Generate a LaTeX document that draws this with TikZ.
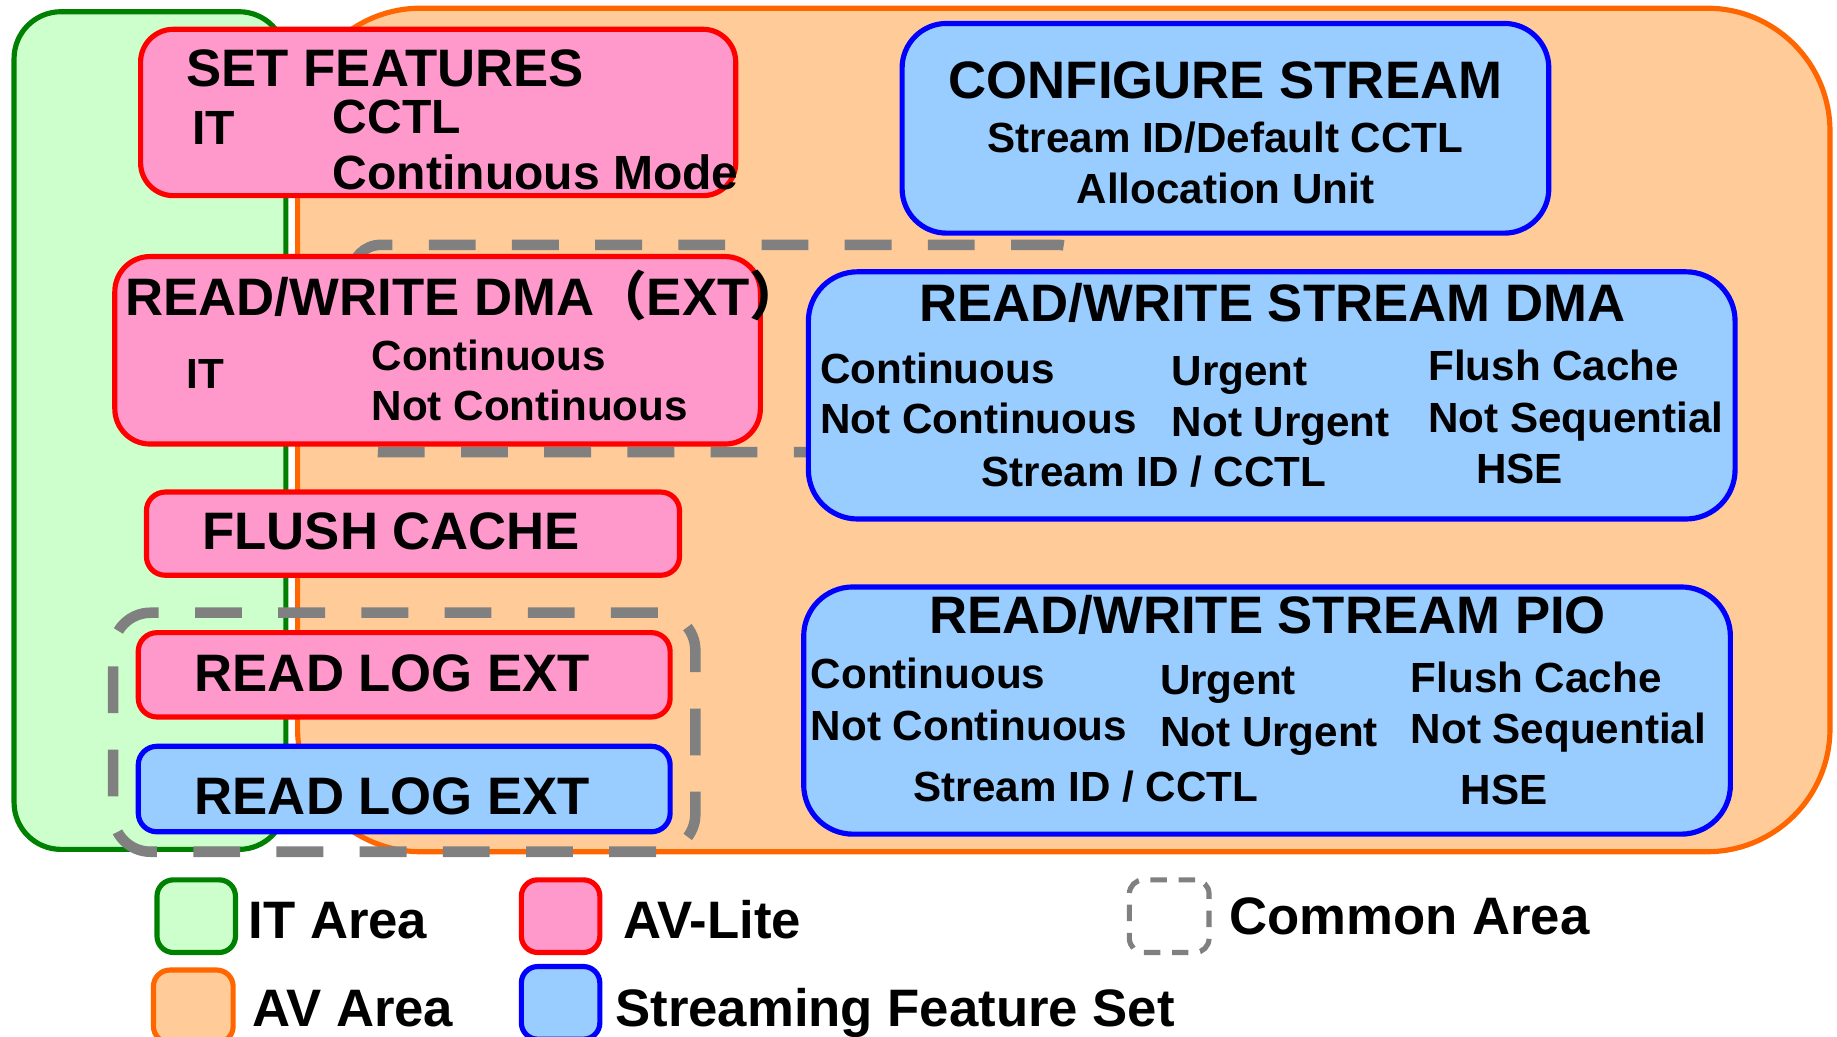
\documentclass[tikz,border=0pt]{standalone}
\usepackage{fontspec}
\setmainfont{Liberation Sans}
\newfontfamily\cjkfont{Noto Sans CJK SC}

\definecolor{itgreen}{HTML}{008000}
\definecolor{itfill}{HTML}{CCFFCC}
\definecolor{avorange}{HTML}{FF6600}
\definecolor{avfill}{HTML}{FFCC99}
\definecolor{litered}{HTML}{FF0000}
\definecolor{litepink}{HTML}{FF99CC}
\definecolor{streamblue}{HTML}{0000FF}
\definecolor{streamfill}{HTML}{99CCFF}
\definecolor{commongray}{HTML}{808080}

\tikzset{
  area/.style={rectangle, line width=4.4pt, inner sep=0pt, outer sep=0pt},
  itzone/.style={area, draw=itgreen, fill=itfill},
  avzone/.style={area, draw=avorange, fill=avfill},
  pinkbox/.style={area, draw=litered, fill=litepink},
  bluebox/.style={area, draw=streamblue, fill=streamfill},
  common/.style={area, draw=commongray, line width=9pt, dash pattern=on 40pt off 31pt},
  title/.style={inner sep=0pt, font=\fontsize{45}{54}\selectfont\bfseries},
  sub/.style={inner sep=0pt, font=\fontsize{36}{43}\selectfont\bfseries},
  subbig/.style={inner sep=0pt, font=\fontsize{41}{49}\selectfont\bfseries}
}

\begin{document}
\begin{tikzpicture}[x=1pt,y=-1pt]
			\path[use as bounding box, clip] (0,0) rectangle (1568,885);
			% areas
			\node[itzone, rounded corners=40pt, minimum width=232pt, minimum height=715pt] (itarea) at (128,367.5) {};
			\node[avzone, rounded corners=105pt, minimum width=1308pt, minimum height=720pt] (avarea) at (908,367) {};
			\node[common, rounded corners=25pt, minimum width=628pt, minimum height=177pt] (commontop) at (614,297.5) {};
			% AV-Lite commands
			\node[pinkbox, rounded corners=28pt, minimum width=508pt, minimum height=142pt] (setfeat) at (374,96) {};
			\node[title, anchor=base west] (setfeatT) at (159,74) {SET FEATURES};
			\node[subbig, anchor=base west] (setfeatIT) at (164,123) {IT};
			\node[subbig, anchor=base west] (setfeatA) at (284,114) {CCTL};
			\node[subbig, anchor=base west] (setfeatB) at (284,162) {Continuous Mode};
			\node[pinkbox, rounded corners=30pt, minimum width=551pt, minimum height=160pt] (rwdma) at (373.5,299) {};
			\node[title, anchor=base west] (rwdmaT) at (107,269) {READ/WRITE DMA{\cjkfont （}EXT{\cjkfont ）}};
			\node[sub, anchor=base west] (rwdmaIT) at (159,332) {IT};
			\node[sub, anchor=base west] (rwdmaA) at (317,316) {Continuous};
			\node[sub, anchor=base west] (rwdmaB) at (317,359) {Not Continuous};
			\node[pinkbox, rounded corners=16pt, minimum width=455pt, minimum height=71pt] (flush) at (352.5,455.5) {};
			\node[title, anchor=base] (flushT) at (334,469) {FLUSH CACHE};
			\node[pinkbox, rounded corners=16pt, minimum width=454pt, minimum height=72pt] (logpink) at (345,576) {};
			\node[title, anchor=base] (logpinkT) at (335,590) {READ LOG EXT};
			\node[bluebox, rounded corners=16pt, minimum width=454pt, minimum height=73pt] (logblue) at (345,673.5) {};
			\node[title, anchor=base] (logblueT) at (335,695) {READ LOG EXT};
			\node[common, rounded corners=32pt, minimum width=497pt, minimum height=204pt] (commonlow) at (345,625) {};
			% streaming commands
			\node[bluebox, rounded corners=38pt, minimum width=552pt, minimum height=179pt] (config) at (1046,109.5) {};
			\node[title, anchor=base] (configT) at (1046,84) {CONFIGURE STREAM};
			\node[sub, anchor=base] (configA) at (1046,130) {Stream ID/Default CCTL};
			\node[sub, anchor=base] (configB) at (1046,174) {Allocation Unit};
			\node[bluebox, rounded corners=42pt, minimum width=791pt, minimum height=211pt] (sdma) at (1085.5,337.5) {};
			\node[title, anchor=base] (sdmaT) at (1086,274) {READ/WRITE STREAM DMA};
			\node[sub, anchor=base west] (sdmaA) at (700,327) {Continuous};
			\node[sub, anchor=base west] (sdmaB) at (700,370) {Not Continuous};
			\node[sub, anchor=base west] (sdmaC) at (1000,329) {Urgent};
			\node[sub, anchor=base west] (sdmaD) at (1000,373) {Not Urgent};
			\node[sub, anchor=base west] (sdmaE) at (1219,325) {Flush Cache};
			\node[sub, anchor=base west] (sdmaF) at (1219,369) {Not Sequential};
			\node[sub, anchor=base] (sdmaG) at (985,415) {Stream ID / CCTL};
			\node[sub, anchor=base] (sdmaH) at (1297,413) {HSE};
			\node[bluebox, rounded corners=42pt, minimum width=791pt, minimum height=211pt] (spio) at (1081.5,606.5) {};
			\node[title, anchor=base] (spioT) at (1082,541) {READ/WRITE STREAM PIO};
			\node[sub, anchor=base west] (spioA) at (692,588) {Continuous};
			\node[sub, anchor=base west] (spioB) at (692,632) {Not Continuous};
			\node[sub, anchor=base west] (spioC) at (990,593) {Urgent};
			\node[sub, anchor=base west] (spioD) at (990,637) {Not Urgent};
			\node[sub, anchor=base west] (spioE) at (1204,591) {Flush Cache};
			\node[sub, anchor=base west] (spioF) at (1204,635) {Not Sequential};
			\node[sub, anchor=base] (spioG) at (927,684) {Stream ID / CCTL};
			\node[sub, anchor=base] (spioH) at (1284,687) {HSE};
			% legend
			\node[itzone, rounded corners=14pt, minimum width=67pt, minimum height=62pt] (keyit) at (167.5,782) {};
			\node[title, anchor=base west] (keyitT) at (212,801) {IT Area};
			\node[pinkbox, rounded corners=14pt, minimum width=67pt, minimum height=62pt] (keylite) at (478.5,782) {};
			\node[title, anchor=base west] (keyliteT) at (532,801) {AV-Lite};
			\node[area, draw=commongray, line width=4.4pt, dash pattern=on 14pt off 10pt, rounded corners=12pt, minimum width=68pt, minimum height=62pt] (keycommon) at (998,782) {};
			\node[title, anchor=base west] (keycommonT) at (1049,798) {Common Area};
			\node[avzone, rounded corners=14pt, minimum width=68pt, minimum height=62pt] (keyav) at (165,859) {};
			\node[title, anchor=base west] (keyavT) at (215,876) {AV Area};
			\node[bluebox, rounded corners=14pt, minimum width=67pt, minimum height=62pt] (keystream) at (478.5,856) {};
			\node[title, anchor=base west] (keystreamT) at (525,876) {Streaming Feature Set};
\end{tikzpicture}
\end{document}
